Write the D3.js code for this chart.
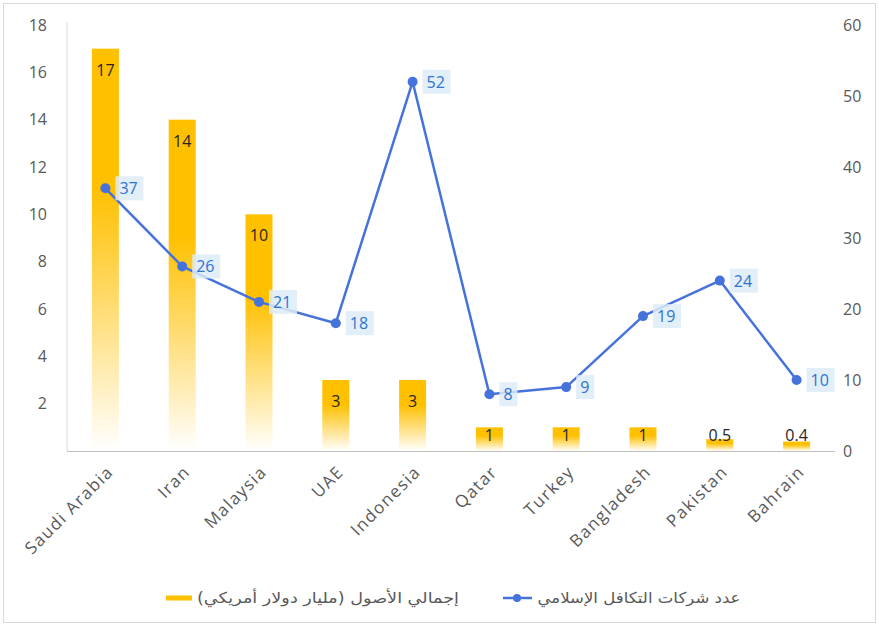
<!DOCTYPE html>
<html>
<head>
<meta charset="utf-8">
<script src="https://cdn.jsdelivr.net/npm/d3@7"></script>
<style>
  html, body { margin: 0; padding: 0; background: #fff; }
  svg { display: block; font-family: "Open Sans", "Noto Sans", sans-serif; }
</style>
</head>
<body>
<svg id="chart" width="879" height="626"></svg>
<script>
// Countries along the x axis
const categories = ["Saudi Arabia", "Iran", "Malaysia", "UAE", "Indonesia", "Qatar", "Turkey", "Bangladesh", "Pakistan", "Bahrain"];
// Total assets, billion US$ (bars, left axis)
const assets = [17, 14, 10, 3, 3, 1, 1, 1, 0.5, 0.4];
// Number of Islamic takaful companies (line, right axis)
const companies = [37, 26, 21, 18, 52, 8, 9, 19, 24, 10];
// Axis ticks
const leftTicks = [2, 4, 6, 8, 10, 12, 14, 16, 18];
const rightTicks = [0, 10, 20, 30, 40, 50, 60];
// Legend texts
const legendBars = "إجمالي الأصول (مليار دولار أمريكي)";
const legendLine = "عدد شركات التكافل الإسلامي";

const svg = d3.select("#chart");
const W = 879, H = 626;
const plotLeft = 67, plotRight = 835, plotTop = 25, plotBottom = 451;

const barColor = "#FFC000";
const lineColor = "#4672DC";
const axisText = "#595959";

// Outer frame
svg.append("rect")
  .attr("x", 3.5).attr("y", 3.5).attr("width", W - 7).attr("height", H - 7)
  .attr("fill", "#fff").attr("stroke", "#D9D9D9").attr("stroke-width", 1);

// Scales
const x = d3.scaleBand().domain(categories).range([plotLeft, plotRight]).paddingInner(0).paddingOuter(0);
const yL = d3.scaleLinear().domain([0, 18]).range([plotBottom, plotTop]);
const yR = d3.scaleLinear().domain([0, 60]).range([plotBottom, plotTop]);

// Bar gradient: solid gold at the top fading to white at the base
const defs = svg.append("defs");
const grad = defs.append("linearGradient").attr("id", "barGrad")
  .attr("x1", 0).attr("y1", 0).attr("x2", 0).attr("y2", 1);
grad.append("stop").attr("offset", "0%").attr("stop-color", barColor);
grad.append("stop").attr("offset", "35%").attr("stop-color", barColor);
grad.append("stop").attr("offset", "100%").attr("stop-color", "#FFFFFF");

// Left axis
const gL = svg.append("g").attr("transform", `translate(${plotLeft},0)`)
  .call(d3.axisLeft(yL).tickValues(leftTicks).tickSize(0).tickPadding(20));
gL.select(".domain").attr("stroke", "#D9D9D9").attr("stroke-width", 1)
  .attr("d", `M0,${plotTop - 3}V${plotBottom}`);
gL.selectAll("text").attr("fill", axisText).attr("font-size", 16)
  .style("font-family", "Open Sans, sans-serif");

// Right axis
const gR = svg.append("g").attr("transform", `translate(${plotRight},0)`)
  .call(d3.axisRight(yR).tickValues(rightTicks).tickSize(0).tickPadding(8));
gR.select(".domain").remove();
gR.selectAll("text").attr("fill", axisText).attr("font-size", 16)
  .style("font-family", "Open Sans, sans-serif");

// Bars
const bw = 27;
svg.append("g").selectAll("rect").data(assets).join("rect")
  .attr("x", (d, i) => x(categories[i]) + x.bandwidth() / 2 - bw / 2)
  .attr("y", d => yL(d))
  .attr("width", bw)
  .attr("height", d => plotBottom - yL(d))
  .attr("fill", "url(#barGrad)");

// Baseline
svg.append("line").attr("x1", plotLeft).attr("x2", plotRight)
  .attr("y1", plotBottom + 0.5).attr("y2", plotBottom + 0.5)
  .attr("stroke", "#BFBFBF").attr("stroke-width", 1);

// Bar value labels
svg.append("g").selectAll("text").data(assets).join("text")
  .attr("x", (d, i) => x(categories[i]) + x.bandwidth() / 2)
  .attr("y", d => Math.min(yL(d) + 27, plotBottom - 10))
  .attr("text-anchor", "middle")
  .attr("font-size", 16)
  .attr("fill", "#262626")
  .text(d => d);

// X axis labels, rotated
svg.append("g").selectAll("text").data(categories).join("text")
  .attr("transform", d => `translate(${x(d) + x.bandwidth() / 2 + 9},${plotBottom + 22}) rotate(-45)`)
  .attr("text-anchor", "end")
  .attr("font-size", 17)
  .attr("letter-spacing", 1.4)
  .attr("fill", axisText)
  .text(d => d);

// Line series
const cx = (i) => x(categories[i]) + x.bandwidth() / 2;
const line = d3.line().x((d, i) => cx(i)).y(d => yR(d));
svg.append("path").datum(companies)
  .attr("d", line)
  .attr("fill", "none")
  .attr("stroke", lineColor)
  .attr("stroke-width", 2.5)
  .attr("stroke-linejoin", "round");

// Line value labels with light blue background
const lblG = svg.append("g");
companies.forEach((d, i) => {
  const tx = cx(i) + 14, ty = yR(d);
  const t = String(d);
  const w = t.length * 10 + 8;
  lblG.append("rect")
    .attr("x", tx - 4).attr("y", ty - 12)
    .attr("width", w).attr("height", 24)
    .attr("fill", "#DDEBF7").attr("opacity", 0.85);
  lblG.append("text")
    .attr("x", tx).attr("y", ty + 6)
    .attr("font-size", 16)
    .attr("fill", "#2F74D0")
    .text(t);
});

// Markers
svg.append("g").selectAll("circle").data(companies).join("circle")
  .attr("cx", (d, i) => cx(i))
  .attr("cy", d => yR(d))
  .attr("r", 5)
  .attr("fill", lineColor);

// Legend
const ly = 598;
svg.append("line").attr("x1", 166).attr("x2", 192).attr("y1", ly).attr("y2", ly)
  .attr("stroke", barColor).attr("stroke-width", 5);
svg.append("text").attr("x", 328).attr("y", ly + 5)
  .attr("text-anchor", "middle").attr("direction", "rtl")
  .attr("font-size", 15).attr("fill", axisText)
  .attr("textLength", 262).attr("lengthAdjust", "spacingAndGlyphs")
  .style("font-family", "DejaVu Sans, sans-serif")
  .text(legendBars);

svg.append("line").attr("x1", 503).attr("x2", 532).attr("y1", ly).attr("y2", ly)
  .attr("stroke", lineColor).attr("stroke-width", 2.5);
svg.append("circle").attr("cx", 517).attr("cy", ly).attr("r", 4).attr("fill", lineColor);
svg.append("text").attr("x", 639).attr("y", ly + 5)
  .attr("text-anchor", "middle").attr("direction", "rtl")
  .attr("font-size", 15).attr("fill", axisText)
  .attr("textLength", 203).attr("lengthAdjust", "spacingAndGlyphs")
  .style("font-family", "DejaVu Sans, sans-serif")
  .text(legendLine);
</script>
</body>
</html>
